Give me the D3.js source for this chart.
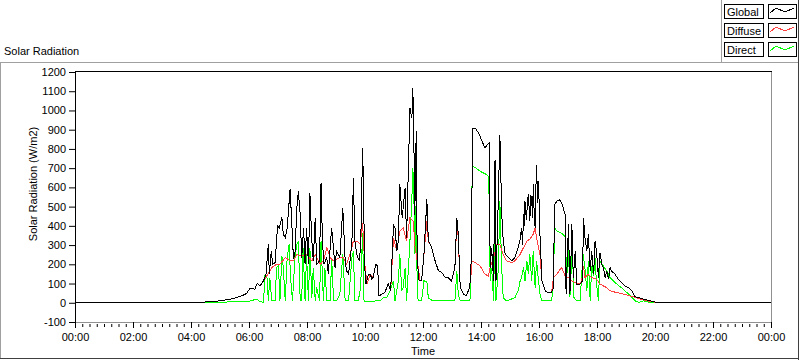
<!DOCTYPE html>
<html><head><meta charset="utf-8">
<script src="https://cdn.jsdelivr.net/npm/d3@7"></script>
<style>
html,body{margin:0;padding:0;background:#fff;}
svg{display:block;font-family:"Liberation Sans",Arial,sans-serif;font-size:11px;}
</style></head><body>
<svg id="c" width="800" height="361"></svg>
<script>
// ---- data (time in minutes since 00:00, values in W/m2) ----
const globalTime = [0,254,259,300,328,345,355,362,372,377,383,390,395,400,402,406,409,414,419,423,428,431,435,439,445,448,452,455,459,462,466,469,473,476,479,483,486,490,493,497,500,506,509,512,515,521,524,531,534,538,541,548,554,559,562,566,569,573,576,579,583,588,591,595,597,599,602,607,611,614,617,622,626,629,635,641,648,653,659,662,666,669,672,677,683,686,693,697,699,701,703,706,708,712,717,722,728,731,738,745,752,759,766,772,779,786,790,793,797,804,810,816,819,823,828,835,841,848,853,857,859,862,866,869,871,876,879,883,886,890,897,904,910,917,921,924,926,928,930,931,934,936,938,941,943,945,947,948,950,952,954,955,957,959,962,966,973,979,986,990,992,997,1003,1007,1010,1014,1016,1021,1024,1028,1031,1035,1038,1045,1050,1052,1055,1059,1062,1066,1069,1073,1076,1079,1083,1086,1090,1093,1097,1100,1104,1107,1110,1117,1124,1131,1138,1145,1152,1159,1166,1176,1190,1204,1210,1440];
const globalValue = [0,0,2,10,22,36,48,76,71,100,88,114,145,304,149,269,200,209,399,390,445,356,338,390,589,442,226,252,494,580,459,235,390,200,390,200,572,321,218,442,200,218,623,321,200,235,149,390,304,183,269,235,494,218,166,149,218,321,649,321,252,218,287,805,597,200,97,149,149,123,132,200,192,36,45,53,97,62,407,390,269,321,615,442,597,338,1012,960,1115,856,459,891,218,114,114,252,537,321,287,218,166,157,131,131,114,183,442,356,79,45,36,79,131,908,908,882,848,805,822,830,183,287,114,744,114,554,874,459,321,252,235,218,235,287,330,390,300,459,400,528,430,520,563,425,560,528,440,615,470,390,640,718,520,632,356,114,62,53,53,79,511,528,535,520,494,459,45,407,45,407,131,269,97,97,114,442,338,269,356,166,269,149,321,269,131,261,200,183,131,166,123,183,166,149,123,105,88,79,62,31,28,19,10,2,0,0];

const diffuseTime = [254,259,300,328,345,355,362,372,377,383,390,397,407,417,424,435,445,452,459,466,479,490,497,507,514,521,528,535,548,555,562,569,576,583,590,595,599,604,611,617,622,626,629,635,641,648,653,659,666,672,679,686,693,700,703,708,714,717,722,728,731,738,745,752,759,766,772,779,786,790,793,797,804,810,816,819,821,828,838,848,855,859,866,873,879,886,893,904,910,921,928,935,941,948,952,955,962,966,973,979,986,990,997,1004,1007,1014,1021,1028,1035,1041,1048,1052,1055,1062,1069,1079,1086,1093,1100,1107,1121,1135,1148,1159,1169,1190,1204,1210];
const diffuseValue = [0,2,10,22,36,48,76,71,100,88,114,140,183,200,200,235,218,218,252,243,252,218,252,200,218,287,235,218,235,235,200,252,321,321,304,416,218,97,149,132,200,192,36,45,53,97,62,338,269,373,390,321,442,425,304,218,114,114,252,425,321,287,218,166,157,131,131,114,183,425,338,79,45,36,79,131,218,209,192,149,140,183,235,304,304,252,218,209,218,252,287,321,330,356,390,338,252,114,62,53,53,131,149,175,183,140,131,114,105,97,105,192,131,149,131,123,97,88,79,62,53,45,36,28,19,7,2,0];

const directTime = [254,259,300,330,360,376,383,390,393,397,400,403,407,414,417,421,424,428,431,435,439,443,446,450,455,459,462,466,469,472,476,479,483,486,490,493,497,500,506,509,514,517,521,528,531,535,541,548,554,559,566,573,576,579,586,591,595,598,604,624,631,638,645,652,659,662,669,672,676,679,683,686,693,697,699,701,703,706,708,710,717,722,728,731,735,741,786,790,793,797,817,819,821,823,831,838,845,852,855,857,859,862,866,869,871,876,879,882,884,886,893,910,917,921,924,928,931,935,938,941,945,948,952,955,959,962,966,986,990,992,997,1004,1010,1015,1017,1021,1024,1029,1032,1038,1045,1051,1055,1059,1062,1066,1069,1073,1076,1079,1083,1086,1093,1100,1107,1121,1135,1145,1152,1159,1166,1176,1190,1204,1210];
const directValue = [0,2,3,5,8,19,5,3,140,140,10,131,10,10,183,192,10,243,183,10,235,304,131,10,235,304,321,10,10,287,10,252,10,287,27,183,10,79,10,321,10,183,10,10,235,10,10,45,252,10,10,235,269,10,10,79,363,10,5,10,10,27,27,62,114,10,114,252,62,79,183,10,321,545,701,580,252,545,79,10,10,114,110,26,18,10,10,166,45,10,10,79,580,710,698,684,675,666,658,545,114,183,10,459,10,183,528,252,114,26,10,26,62,114,131,183,114,218,149,252,114,269,79,218,114,45,10,10,97,390,373,364,356,338,114,280,30,300,28,10,10,255,183,62,218,10,192,140,235,97,10,218,192,166,131,97,70,45,28,10,2,10,2,0,0];

const yTicks = [-100,0,100,200,300,400,500,600,700,800,900,1000,1100,1200];
const xTickLabels = ["00:00","02:00","04:00","06:00","08:00","10:00","12:00","14:00","16:00","18:00","20:00","22:00","00:00"];
const seriesNames = ["Global","Diffuse","Direct"];
const seriesColors = ["#000000","#ff4040","#00ff00"];

// ---- layout ----
const svg = d3.select("#c");
const x = d3.scaleLinear().domain([0,1440]).range([75,771]);
const y = d3.scaleLinear().domain([-100,1200]).range([322,72]);

// outer panel
svg.append("line").attr("x1",0).attr("x2",799).attr("y1",62.5).attr("y2",62.5).attr("stroke","#a0a0a0");
svg.append("line").attr("x1",0.5).attr("x2",0.5).attr("y1",62).attr("y2",359).attr("stroke","#a0a0a0");
svg.append("line").attr("x1",798.5).attr("x2",798.5).attr("y1",0).attr("y2",360).attr("stroke","#404040");
svg.append("line").attr("x1",0).attr("x2",799).attr("y1",358.5).attr("y2",358.5).attr("stroke","#404040");
// legend panel
svg.append("line").attr("x1",721.5).attr("x2",721.5).attr("y1",0).attr("y2",62).attr("stroke","#a0a0a0");

svg.append("text").attr("x",4).attr("y",55).attr("fill","#000").text("Solar Radiation");

// plot frame
const g = svg.append("g");
g.append("line").attr("x1",75).attr("x2",772).attr("y1",71.5).attr("y2",71.5).attr("stroke","#000");
g.append("line").attr("x1",75.5).attr("x2",75.5).attr("y1",71).attr("y2",323).attr("stroke","#000");
g.append("line").attr("x1",771.5).attr("x2",771.5).attr("y1",72).attr("y2",323).attr("stroke","#909090");
g.append("line").attr("x1",76).attr("x2",772).attr("y1",322.5).attr("y2",322.5).attr("stroke","#909090");

// y axis
const ya = g.append("g")
  .call(d3.axisLeft(y).tickValues(yTicks).tickSize(6).tickPadding(3).tickFormat(d=>String(d)));
ya.select(".domain").remove();
ya.selectAll("line").attr("transform","translate(75,0)");
ya.selectAll("text").attr("transform","translate(75,0)").attr("font-size",11).attr("font-family","Liberation Sans, Arial, sans-serif").attr("fill","#000");
ya.selectAll(".tick line").attr("stroke","#000");

// x axis minor
const xm = g.append("g").attr("transform","translate(0,323)")
  .call(d3.axisBottom(x).tickValues(d3.range(0,1441,15)).tickSize(3).tickFormat(""));
xm.select(".domain").remove();
xm.selectAll("line").attr("transform","translate(0,1)").attr("stroke","#000");
// x axis major
const xa = g.append("g").attr("transform","translate(0,322)")
  .call(d3.axisBottom(x).tickValues(d3.range(0,1441,120)).tickSize(6).tickPadding(5).tickFormat((d,i)=>xTickLabels[i]));
xa.select(".domain").remove();
xa.selectAll("line").attr("stroke","#000");
xa.selectAll("text").attr("font-size",11).attr("font-family","Liberation Sans, Arial, sans-serif").attr("fill","#000");

svg.append("text").attr("x",423).attr("y",355).attr("text-anchor","middle").text("Time");
svg.append("text").attr("transform","translate(37,184) rotate(-90)").attr("text-anchor","middle").text("Solar Radiation (W/m2)");

// series
const series = [
  {name:seriesNames[2], t:directTime, v:directValue, c:seriesColors[2]},
  {name:seriesNames[1], t:diffuseTime, v:diffuseValue, c:seriesColors[1]},
  {name:seriesNames[0], t:globalTime, v:globalValue, c:seriesColors[0]}
];
const line = d3.line().x(d=>x(d[0])).y(d=>y(d[1]));
series.forEach(s=>{
  g.append("path").datum(s.t.map((t,i)=>[t,s.v[i]]))
    .attr("d",line).attr("fill","none").attr("stroke",s.c).attr("stroke-width",1)
    .attr("shape-rendering","crispEdges");
});

// legend
const lg = svg.append("g");
seriesNames.forEach((n,i)=>{
  const top = 4 + i*19;
  lg.append("rect").attr("x",724.5).attr("y",top+0.5).attr("width",39).attr("height",14).attr("fill","#fff").attr("stroke","#000");
  lg.append("text").attr("x",727).attr("y",top+12).text(n);
  lg.append("rect").attr("x",768.5).attr("y",top+0.5).attr("width",28).attr("height",14).attr("fill","#fff").attr("stroke","#000");
  lg.append("polyline").attr("points",[[770,top+9],[776,top+4],[785,top+8],[794,top+4]].map(p=>p.join(",")).join(" "))
    .attr("fill","none").attr("stroke",seriesColors[i]).attr("shape-rendering","crispEdges");
});
</script>
</body></html>
